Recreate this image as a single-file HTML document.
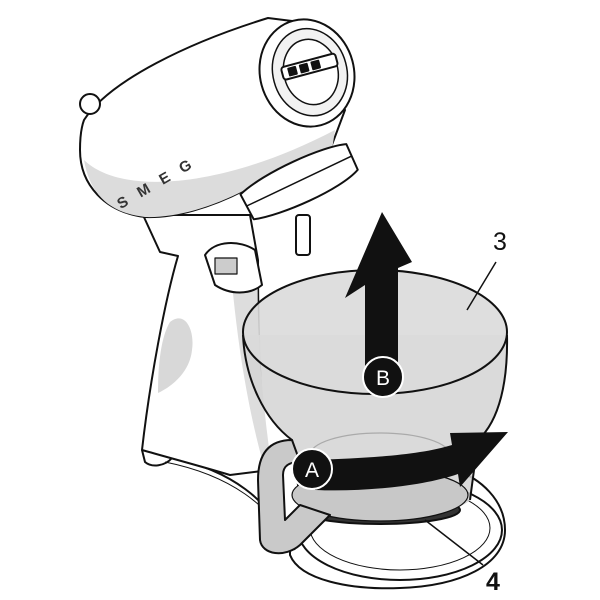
<!DOCTYPE html>
<html><head><meta charset="utf-8"><style>
html,body{margin:0;padding:0;background:#fff;width:600px;height:600px;overflow:hidden}
svg{display:block}
</style></head><body>
<svg width="600" height="600" viewBox="0 0 600 600" xmlns="http://www.w3.org/2000/svg" font-family="Liberation Sans, sans-serif">
<g stroke="#111" stroke-width="2" fill="#fff" stroke-linejoin="round">
<!-- base foot curve -->
<path d="M142,450 L145,462 C152,468 165,466 172,458 C230,470 270,500 290,545 L290,555 C300,580 350,590 400,588 C460,586 505,565 505,530 C505,500 480,478 455,470" fill="#fff"/>
<path d="M165,462 C230,475 270,505 295,550" fill="none" stroke-width="1"/>
<ellipse cx="400" cy="530" rx="102" ry="50" fill="#fff"/>
<ellipse cx="400" cy="528" rx="90" ry="42" fill="none" stroke-width="1"/>
<!-- column + neck -->
<path d="M143,215 L160,252 L178,256 C165,300 150,380 142,450 C170,458 200,466 230,475 L270,470 C260,420 258,330 258,260 L250,215 Z" fill="#fff"/>
<path d="M230,262 C236,330 245,400 265,470 L272,470 C262,400 256,330 258,262 Z" fill="#ddd" stroke="none"/>
<path d="M170,322 C185,310 195,330 192,350 C190,370 175,385 158,393 C158,360 162,335 170,322 Z" fill="#d8d8d8" stroke="none"/>
<!-- hinge block -->
<path d="M205,255 C215,240 240,240 255,250 L262,285 C250,295 230,295 215,285 Z" fill="#fff"/>
<rect x="215" y="258" width="22" height="16" fill="#ccc" stroke-width="1.2"/>
<!-- head -->
<path d="M84,120 C110,80 190,42 268,18 L300,22 L345,110 L330,150 L245,190 C210,208 175,218 145,217 C105,212 80,185 80,150 C80,138 81,128 84,120 Z" fill="#fff"/>
<path d="M84,160 C120,195 220,190 335,130 L332,150 L245,190 C210,208 175,218 145,217 C110,213 90,195 84,160 Z" fill="#dcdcdc" stroke="none"/>
<circle cx="90" cy="104" r="10"/>
<!-- motor cap -->
<g transform="rotate(-15 307 73)">
<ellipse cx="307" cy="73" rx="47" ry="54"/>
<ellipse cx="310" cy="73" rx="37" ry="44" fill="#f2f2f2" stroke-width="1.5"/>
<ellipse cx="311" cy="73" rx="27" ry="33" fill="#fff" stroke-width="1.5"/>
<rect x="283" y="61" width="56" height="13" rx="3" fill="#fff"/>
<rect x="290" y="64" width="7" height="7" fill="#111"/><rect x="302" y="64" width="7" height="7" fill="#111"/><rect x="314" y="64" width="7" height="7" fill="#111"/>
</g>
<!-- beater hub -->
<g transform="rotate(-22 298 182)">
<path d="M240,172 C270,160 335,158 357,165 L358,193 C335,205 270,207 243,200 Z" fill="#fff"/>
<line x1="242" y1="185" x2="358" y2="178" stroke-width="1.5"/>
</g>
<rect x="296" y="215" width="14" height="40" rx="3" fill="#fff"/>
<!-- bowl body -->
<path d="M243,335 C245,380 265,420 292,440 L300,500 C320,522 450,522 470,500 L478,440 C500,420 508,380 507,335 Z" fill="#d4d4d4" fill-opacity="0.85" stroke="none"/>
<path d="M243,335 C245,380 265,420 292,440 L300,500 M470,500 L478,440 C500,420 508,380 507,335" fill="none"/>
<ellipse cx="375" cy="332" rx="132" ry="62" fill="#dadada" fill-opacity="0.9"/>
<ellipse cx="380" cy="510" rx="80" ry="14" fill="#333"/>
<ellipse cx="380" cy="495" rx="88" ry="26" fill="#c8c8c8" stroke-width="1.2"/>
<ellipse cx="380" cy="455" rx="70" ry="22" fill="none" stroke="#aaa" stroke-width="1.2"/>
<!-- handle -->
<path d="M292,440 C268,440 258,455 258,480 L260,540 C262,555 285,558 300,545 L330,515 L300,505 L285,520 L283,475 C283,465 290,462 300,462 Z" fill="#c9c9c9"/>
</g>
<!-- SMEG letters -->
<g font-weight="bold" font-size="15" fill="#333" transform="rotate(-30 150 160)">
<text x="100" y="188" letter-spacing="13">SMEG</text>
</g>
<!-- arrow B -->
<path d="M382,212 L412,262 L398,268 L398,370 L365,370 L365,285 L345,298 Z" fill="#111"/>
<circle cx="383" cy="377" r="20" fill="#111" stroke="#fff" stroke-width="2"/>
<text x="383" y="385" font-size="21" fill="#fff" text-anchor="middle">B</text>
<!-- arrow A -->
<path d="M315,460 C370,458 420,455 452,445 L450,433 L508,432 L460,487 L458,474 C420,487 360,492 315,490 Z" fill="#111"/>
<circle cx="312" cy="469" r="20" fill="#111" stroke="#fff" stroke-width="2"/>
<text x="312" y="477" font-size="21" fill="#fff" text-anchor="middle">A</text>
<!-- callouts -->
<line x1="496" y1="262" x2="467" y2="310" stroke="#111" stroke-width="1.5"/>
<text x="493" y="250" font-size="25" fill="#111">3</text>
<line x1="425" y1="520" x2="483" y2="565" stroke="#111" stroke-width="1.5"/>
<text x="486" y="590" font-size="25" font-weight="bold" fill="#111">4</text>
</svg>
</body></html>
